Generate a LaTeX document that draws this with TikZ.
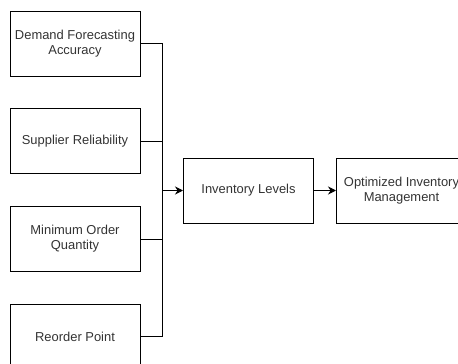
\documentclass[tikz,border=0pt]{standalone}
\usepackage{fontspec}
\setmainfont{Liberation Sans}
\usetikzlibrary{arrows.meta}
\tikzset{
  >={Stealth[length=6pt,width=6pt]},
  box/.style={draw=black,line width=0.75pt,minimum width=97.5pt,minimum height=48.75pt,
    align=center,font=\fontsize{9.7pt}{11.3pt}\selectfont,text=black!80,inner sep=2pt},
  link/.style={line width=0.75pt},
  flow/.style={->,line width=0.75pt},
}
\begin{document}
\begin{tikzpicture}[x=0.75pt,y=-0.75pt]
  \useasboundingbox (0,0) rectangle (458,364);
  % inputs
  \node[box] (dfa) at (75,43.5) {Demand Forecasting\\Accuracy};
  \node[box] (sr) at (75,141) {Supplier Reliability};
  \node[box] (moq) at (75,239) {Minimum Order\\Quantity};
  \node[box] (rp) at (75,336.5) {Reorder Point};
  % outputs
  \node[box] (inv) at (248.5,190.5) {Inventory Levels};
  \node[box] (opt) at (401.5,190.5) {Optimized Inventory\\Management};
  \coordinate (join) at (162,190.5);
  \draw[link] (dfa.east) -| (join);
  \draw[link] (sr.east) -| (join);
  \draw[link] (moq.east) -| (join);
  \draw[link] (rp.east) -| (join);
  \draw[flow] (join) -- (inv.west);
  \draw[flow] (inv) -- (opt);
\end{tikzpicture}
\end{document}
